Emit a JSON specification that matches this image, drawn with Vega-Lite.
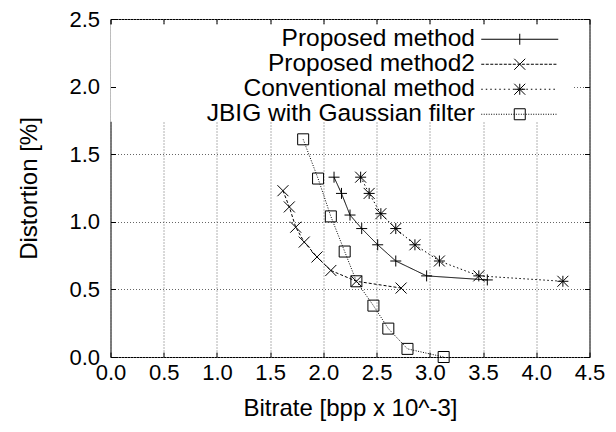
{
  "$schema": "https://vega.github.io/schema/vega-lite/v6.json",
  "width": 479,
  "height": 338,
  "autosize": "none",
  "padding": {"left": 110.5, "top": 19, "right": 26.5, "bottom": 75},
  "background": "white",
  "config": {
    "font": "Liberation Sans",
    "view": {"stroke": "black", "strokeWidth": 1},
    "axis": {"labelColor": "black", "titleColor": "black", "titleFontWeight": "normal", "tickColor": "black", "tickWidth": 1, "domain": false, "labelFlush": false}
  },
  "datasets": {
    "pts": [
      {"series": "Proposed method", "bitrate": 2.10, "distortion": 1.33},
      {"series": "Proposed method", "bitrate": 2.17, "distortion": 1.21},
      {"series": "Proposed method", "bitrate": 2.25, "distortion": 1.05},
      {"series": "Proposed method", "bitrate": 2.36, "distortion": 0.95},
      {"series": "Proposed method", "bitrate": 2.51, "distortion": 0.83},
      {"series": "Proposed method", "bitrate": 2.68, "distortion": 0.71},
      {"series": "Proposed method", "bitrate": 2.97, "distortion": 0.60},
      {"series": "Proposed method", "bitrate": 3.54, "distortion": 0.57},
      {"series": "Proposed method2", "bitrate": 1.62, "distortion": 1.23},
      {"series": "Proposed method2", "bitrate": 1.68, "distortion": 1.11},
      {"series": "Proposed method2", "bitrate": 1.74, "distortion": 0.96},
      {"series": "Proposed method2", "bitrate": 1.82, "distortion": 0.85},
      {"series": "Proposed method2", "bitrate": 1.94, "distortion": 0.74},
      {"series": "Proposed method2", "bitrate": 2.07, "distortion": 0.64},
      {"series": "Proposed method2", "bitrate": 2.31, "distortion": 0.56},
      {"series": "Proposed method2", "bitrate": 2.73, "distortion": 0.51},
      {"series": "Conventional method", "bitrate": 2.35, "distortion": 1.33},
      {"series": "Conventional method", "bitrate": 2.43, "distortion": 1.21},
      {"series": "Conventional method", "bitrate": 2.54, "distortion": 1.06},
      {"series": "Conventional method", "bitrate": 2.68, "distortion": 0.95},
      {"series": "Conventional method", "bitrate": 2.86, "distortion": 0.83},
      {"series": "Conventional method", "bitrate": 3.09, "distortion": 0.71},
      {"series": "Conventional method", "bitrate": 3.46, "distortion": 0.60},
      {"series": "Conventional method", "bitrate": 4.25, "distortion": 0.56},
      {"series": "JBIG with Gaussian filter", "bitrate": 1.81, "distortion": 1.61},
      {"series": "JBIG with Gaussian filter", "bitrate": 1.95, "distortion": 1.32},
      {"series": "JBIG with Gaussian filter", "bitrate": 2.07, "distortion": 1.04},
      {"series": "JBIG with Gaussian filter", "bitrate": 2.20, "distortion": 0.78},
      {"series": "JBIG with Gaussian filter", "bitrate": 2.31, "distortion": 0.56},
      {"series": "JBIG with Gaussian filter", "bitrate": 2.47, "distortion": 0.38},
      {"series": "JBIG with Gaussian filter", "bitrate": 2.61, "distortion": 0.21},
      {"series": "JBIG with Gaussian filter", "bitrate": 2.79, "distortion": 0.06},
      {"series": "JBIG with Gaussian filter", "bitrate": 3.13, "distortion": 0.00}
    ]
  },
  "layer": [
    {
      "data": {"values": [{}]},
      "mark": {"type": "rect", "fill": "white", "stroke": null},
      "encoding": {
        "x": {"datum": 0, "type": "quantitative", "scale": {"domain": [0, 4.5], "nice": false, "zero": false},
          "axis": {"orient": "top", "values": [0, 0.5, 1, 1.5, 2, 2.5, 3, 3.5, 4, 4.5], "grid": true, "gridColor": "#666", "gridDash": [1, 2], "gridWidth": 1, "ticks": true, "tickSize": -5, "labels": false, "title": null, "zindex": 0}},
        "x2": {"datum": 4.34},
        "y": {"datum": 1.74, "type": "quantitative", "scale": {"domain": [0, 2.5], "nice": false, "zero": false},
          "axis": {"orient": "right", "values": [0, 0.5, 1, 1.5, 2, 2.5], "grid": true, "gridColor": "#666", "gridDash": [1, 2], "gridWidth": 1, "ticks": true, "tickSize": -5, "labels": false, "title": null, "zindex": 0}},
        "y2": {"datum": 2.46}
      }
    },
    {
      "data": {"name": "pts"},
      "encoding": {
        "x": {"field": "bitrate", "type": "quantitative", "scale": {"domain": [0, 4.5], "nice": false, "zero": false},
          "axis": {"orient": "bottom", "values": [0, 0.5, 1, 1.5, 2, 2.5, 3, 3.5, 4, 4.5], "format": ".1f", "grid": false, "ticks": true, "tickSize": -5, "labelPadding": 10, "labelFontSize": 22, "title": "Bitrate [bpp x 10^-3]", "titleFontSize": 24, "titlePadding": 13, "zindex": 1}},
        "y": {"field": "distortion", "type": "quantitative", "scale": {"domain": [0, 2.5], "nice": false, "zero": false},
          "axis": {"orient": "left", "values": [0, 0.5, 1, 1.5, 2, 2.5], "format": ".1f", "grid": false, "ticks": true, "tickSize": -5, "labelPadding": 16, "labelFontSize": 22, "title": "Distortion [%]", "titleFontSize": 24, "titlePadding": 27, "zindex": 1}}
      },
      "layer": [
        {
          "mark": {"type": "line", "color": "black", "strokeWidth": 1},
          "encoding": {
            "strokeDash": {"field": "series", "type": "nominal",
              "scale": {"domain": ["Proposed method", "Proposed method2", "Conventional method", "JBIG with Gaussian filter"],
                "range": [[1, 0], [3, 2], [1.5, 2.5], [1, 1.5]]}, "legend": null}
          }
        },
        {
          "mark": {"type": "point", "filled": false, "stroke": "black", "strokeWidth": 1, "size": 121, "opacity": 1},
          "encoding": {
            "shape": {"field": "series", "type": "nominal",
              "scale": {"domain": ["Proposed method", "Proposed method2", "Conventional method", "JBIG with Gaussian filter"],
                "range": ["M-1,0H1M0,-1V1", "M-1,-1L1,1M-1,1L1,-1", "M-1,0H1M0,-1V1M-1,-1L1,1M-1,1L1,-1", "M-1,-1H1V1H-1Z"]}, "legend": null}
          }
        },
        {
          "mark": {"type": "point", "filled": false, "stroke": "black", "strokeWidth": 1, "size": 121, "opacity": 0},
          "encoding": {
            "shape": {"field": "series", "type": "nominal",
              "scale": {"domain": ["Proposed method", "Proposed method2", "Conventional method", "JBIG with Gaussian filter"],
                "range": [
                  "M-7,0H7M0,-1V1",
                  "M-7,0h0.55m0.27,0h0.55m0.27,0h0.55m0.27,0h0.55m0.27,0h0.55m0.27,0h0.55m0.27,0h0.55m0.27,0h0.55m0.27,0h0.55m0.27,0h0.55m0.27,0h0.55m0.27,0h0.55m0.27,0h0.55m0.27,0h0.55m0.27,0h0.55m0.27,0h0.55m0.27,0h0.55M-1,-1L1,1M-1,1L1,-1",
                  "M-7,0h0.27m0.55,0h0.27m0.55,0h0.27m0.55,0h0.27m0.55,0h0.27m0.55,0h0.27m0.55,0h0.27m0.55,0h0.27m0.55,0h0.27m0.55,0h0.27m0.55,0h0.27m0.55,0h0.27m0.55,0h0.27m0.55,0h0.27m0.55,0h0.27m0.55,0h0.27m0.55,0h0.27M-1,0H1M0,-1V1M-1,-1L1,1M-1,1L1,-1",
                  "M-7,0h0.18m0.27,0h0.18m0.27,0h0.18m0.27,0h0.18m0.27,0h0.18m0.27,0h0.18m0.27,0h0.18m0.27,0h0.18m0.27,0h0.18m0.27,0h0.18m0.27,0h0.18m0.27,0h0.18m0.27,0h0.18m0.27,0h0.18m0.27,0h0.18m0.27,0h0.18m0.27,0h0.18m0.27,0h0.18m0.27,0h0.18m0.27,0h0.18m0.27,0h0.18m0.27,0h0.18m0.27,0h0.18m0.27,0h0.18m0.27,0h0.18m0.27,0h0.18m0.27,0h0.18m0.27,0h0.18m0.27,0h0.18m0.27,0h0.18m0.27,0h0.18M-1,-1H1V1H-1Z"
                ]},
              "legend": {
                "title": null, "orient": "none", "legendX": 397, "legendY": 8, "padding": 0,
                "symbolSize": 121, "symbolStrokeWidth": 1, "symbolStrokeColor": "black", "symbolFillColor": "transparent", "symbolOpacity": 1,
                "labelFontSize": 24.5, "labelColor": "black", "labelAlign": "right", "labelOffset": -57, "labelLimit": 400, "rowPadding": 0,
                "encode": {"symbols": {"update": {"opacity": {"value": 1}, "stroke": {"value": "black"}, "fill": {"value": "transparent"}, "strokeWidth": {"value": 1}}}}
              }
            }
          }
        }
      ],
      "resolve": {"scale": {"shape": "independent"}}
    }
  ],
  "resolve": {"axis": {"x": "independent", "y": "independent"}}
}
